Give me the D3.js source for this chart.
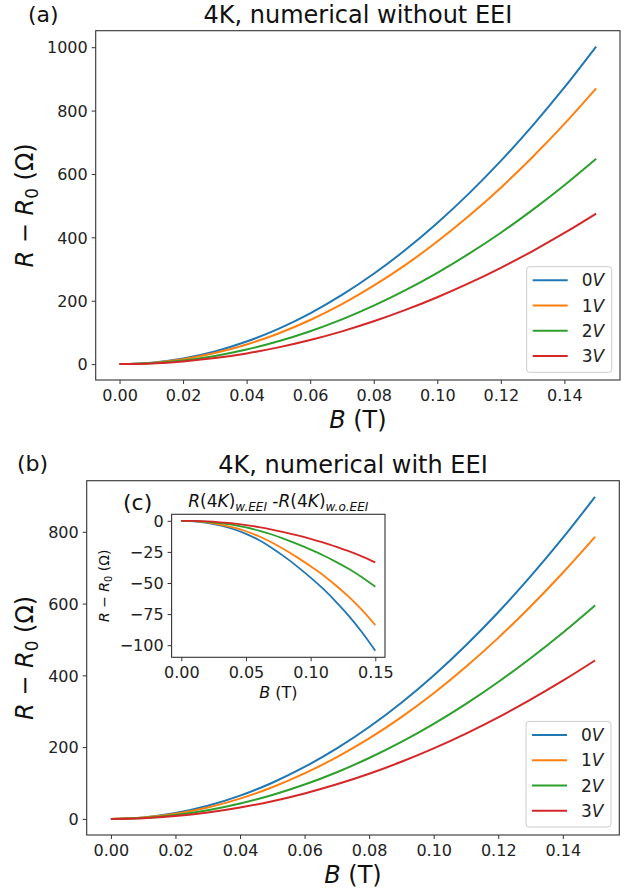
<!DOCTYPE html>
<html>
<head>
<meta charset="utf-8">
<script src="https://cdn.jsdelivr.net/npm/d3@7"></script>
<style>
body{margin:0;background:#fff;}
svg{display:block;font-family:"DejaVu Sans",sans-serif;}
</style>
</head>
<body>
<svg id="chart" width="639" height="893"></svg>
<script>
// ---------- data ----------
const fieldB = [0,0.01,0.02,0.03,0.04,0.05,0.06,0.07,0.08,0.09,0.10,0.11,0.12,0.13,0.14,0.15];
const seriesNames = ["0", "1", "2", "3"];
const seriesColors = ["#1f77b4", "#ff7f0e", "#2ca02c", "#d62728"];

// (a) numerical without EEI
const noEEI_0V = [0,4.5,17.8,40.1,71.3,111.3,160.3,218.2,285,360.7,445.3,538.8,641.3,752.6,872.9,1002];
const noEEI_1V = [0,3.9,15.5,34.8,61.9,96.7,139.2,189.5,247.5,313.2,386.7,467.9,556.8,653.5,757.9,870];
const noEEI_2V = [0,2.9,11.5,25.9,46.1,72,103.7,141.1,184.3,233.3,288,348.5,414.7,486.7,564.5,648];
const noEEI_3V = [0,2.1,8.4,19,33.8,52.8,76,103.4,135.1,171,211.1,255.4,304,356.8,413.8,475];

// (b) numerical with EEI
const withEEI_0V = [0,4.1,16.2,36.4,64.7,100.8,144.8,196.4,256,323.7,399.6,483.8,575.8,675.6,782.9,897.5];
const withEEI_1V = [0,3.6,14.2,31.8,56.6,88.3,126.8,172.1,224.3,283.6,350.1,423.9,504.4,591.9,685.9,786.2];
const withEEI_2V = [0,2.7,10.7,24,42.8,66.7,95.8,130.1,169.6,214.5,264.8,320.6,381.5,447.7,518.9,595];
const withEEI_3V = [0,2,7.9,17.8,31.7,49.4,71,96.4,125.8,159.2,196.5,237.8,283,332.2,385,441.6];

// (c) difference
const diff_0V = [0,-0.4,-1.6,-3.7,-6.6,-10.5,-15.5,-21.8,-29,-37,-45.7,-55,-65.5,-77,-90,-104.5];
const diff_1V = [0,-0.3,-1.3,-3,-5.3,-8.4,-12.4,-17.4,-23.2,-29.6,-36.6,-44,-52.4,-61.6,-72,-83.8];
const diff_2V = [0,-0.2,-0.8,-1.9,-3.3,-5.3,-7.9,-11,-14.7,-18.8,-23.2,-27.9,-33.2,-39,-45.6,-53];
const diff_3V = [0,-0.1,-0.5,-1.2,-2.1,-3.4,-5,-7,-9.3,-11.8,-14.6,-17.6,-21,-24.6,-28.8,-33.4];

const mainXTicks = [0,0.02,0.04,0.06,0.08,0.10,0.12,0.14];
const topYTicks = [0,200,400,600,800,1000];
const botYTicks = [0,200,400,600,800];
const insetXTicks = [0,0.05,0.10,0.15];
const insetYTicks = [0,-25,-50,-75,-100];

// ---------- drawing ----------
const svg = d3.select("#chart");
const AX = "#333";

function yDomainOf(arrs){
  const mn = d3.min(arrs, a => d3.min(a)), mx = d3.max(arrs, a => d3.max(a));
  const m = (mx - mn) * 0.05;
  return [mn - m, mx + m];
}

function panel(o){
  const g = svg.append("g");
  const x = d3.scaleLinear().domain([-0.0075, 0.1575]).range([o.left, o.right]);
  const y = d3.scaleLinear().domain(yDomainOf(o.series)).range([o.bottom, o.top]);
  g.append("rect").attr("x", o.left).attr("y", o.top)
    .attr("width", o.right - o.left).attr("height", o.bottom - o.top).attr("fill", "#fff");

  const line = d3.line().x((d, i) => x(fieldB[i])).y(d => y(d)).curve(d3.curveMonotoneX);
  o.series.forEach((s, i) => {
    g.append("path").datum(s).attr("d", line).attr("fill", "none")
      .attr("stroke", seriesColors[i]).attr("stroke-width", o.lw || 2);
  });

  const xAxis = d3.axisBottom(x).tickValues(o.xTicks).tickSize(4).tickPadding(o.xPad)
    .tickFormat(o.xFmt);
  const yAxis = d3.axisLeft(y).tickValues(o.yTicks).tickSize(4).tickPadding(4)
    .tickFormat(d => d < 0 ? "\u2212" + Math.abs(d) : String(d));
  const gx = g.append("g").attr("transform", `translate(0,${o.bottom})`).call(xAxis);
  const gy = g.append("g").attr("transform", `translate(${o.left},0)`).call(yAxis);
  [gx, gy].forEach(a => {
    a.select(".domain").remove();
    a.selectAll("line").attr("stroke", AX).attr("stroke-width", 1);
    a.selectAll("text").attr("fill", "#222").style("font-size", o.tickFont + "px")
      .style("font-family", "DejaVu Sans");
  });
  gy.selectAll("text").attr("dy", "0.36em");

  g.append("rect").attr("x", o.left).attr("y", o.top)
    .attr("width", o.right - o.left).attr("height", o.bottom - o.top)
    .attr("fill", "none").attr("stroke", AX).attr("stroke-width", 1.1);
  return {g, x, y};
}

function rLabel(sel, size){
  sel.append("tspan").attr("font-style", "italic").text("R");
  sel.append("tspan").text(" \u2212 ");
  sel.append("tspan").attr("font-style", "italic").text("R");
  sel.append("tspan").attr("dy", size * 0.22).style("font-size", (size * 0.7) + "px").text("0");
  sel.append("tspan").attr("dy", -size * 0.22).text(" (\u03A9)");
}
function bLabel(sel){
  sel.append("tspan").attr("font-style", "italic").text("B");
  sel.append("tspan").text(" (T)");
}

function legend(o){
  const g = svg.append("g");
  g.append("rect").attr("x", o.x0).attr("y", o.y0).attr("width", o.w).attr("height", o.h)
    .attr("rx", 3).attr("fill", "#fff").attr("fill-opacity", 0.8)
    .attr("stroke", "#ccc").attr("stroke-width", 1);
  seriesNames.forEach((n, i) => {
    const yy = o.y0 + 13.5 + i * 25.3;
    g.append("line").attr("x1", o.x0 + 6).attr("x2", o.x0 + 41).attr("y1", yy).attr("y2", yy)
      .attr("stroke", seriesColors[i]).attr("stroke-width", 2);
    const t = g.append("text").attr("x", o.x0 + 55).attr("y", yy).attr("dy", "0.36em")
      .style("font-size", "17px").attr("fill", "#222");
    t.append("tspan").text(n);
    t.append("tspan").attr("font-style", "italic").text("V");
  });
}

// ---- panel (a)
const A = panel({left: 95.7, right: 620, top: 30.7, bottom: 380,
  series: [noEEI_0V, noEEI_1V, noEEI_2V, noEEI_3V],
  xTicks: mainXTicks, yTicks: topYTicks, xFmt: d3.format(".2f"), tickFont: 16, xPad: 6});
svg.append("text").attr("x", 357.9).attr("y", 23.3).attr("text-anchor", "middle")
  .style("font-size", "24px").attr("fill", "#111").text("4K, numerical without EEI");
svg.append("text").attr("x", 28).attr("y", 22).style("font-size", "22px").attr("fill", "#111").text("(a)");
svg.append("text").attr("x", 357.9).attr("y", 428).attr("text-anchor", "middle")
  .style("font-size", "24px").attr("fill", "#111").call(bLabel);
svg.append("text").attr("transform", "translate(33,205.4) rotate(-90)").attr("text-anchor", "middle")
  .style("font-size", "24px").attr("fill", "#111").call(s => rLabel(s, 24));
legend({x0: 526.7, y0: 266.7, w: 85, h: 105.6});

// ---- panel (b)
const Bp = panel({left: 86.7, right: 619.3, top: 480.7, bottom: 835,
  series: [withEEI_0V, withEEI_1V, withEEI_2V, withEEI_3V],
  xTicks: mainXTicks, yTicks: botYTicks, xFmt: d3.format(".2f"), tickFont: 16, xPad: 6});
svg.append("text").attr("x", 353).attr("y", 473.3).attr("text-anchor", "middle")
  .style("font-size", "24px").attr("fill", "#111").text("4K, numerical with EEI");
svg.append("text").attr("x", 17).attr("y", 471).style("font-size", "22px").attr("fill", "#111").text("(b)");
svg.append("text").attr("x", 353).attr("y", 883).attr("text-anchor", "middle")
  .style("font-size", "24px").attr("fill", "#111").call(bLabel);
svg.append("text").attr("transform", "translate(33,657.9) rotate(-90)").attr("text-anchor", "middle")
  .style("font-size", "24px").attr("fill", "#111").call(s => rLabel(s, 24));
legend({x0: 526, y0: 721.4, w: 85, h: 105.6});

// ---- inset (c)
const C = panel({left: 171.6, right: 385, top: 514.3, bottom: 657.3,
  series: [diff_0V, diff_1V, diff_2V, diff_3V],
  xTicks: insetXTicks, yTicks: insetYTicks, xFmt: d3.format(".2f"), tickFont: 16, xPad: 5, lw: 1.8});
svg.append("text").attr("x", 123).attr("y", 510).style("font-size", "22px").attr("fill", "#111").text("(c)");
svg.append("text").attr("x", 278.3).attr("y", 698).attr("text-anchor", "middle")
  .style("font-size", "16px").attr("fill", "#111").call(bLabel);
svg.append("text").attr("transform", "translate(109,585.8) rotate(-90)").attr("text-anchor", "middle")
  .style("font-size", "14px").attr("fill", "#111").call(s => rLabel(s, 14));
// inset title
const tt = svg.append("text").attr("x", 278.3).attr("y", 507).attr("text-anchor", "middle")
  .style("font-size", "17px").attr("fill", "#111");
function rk(sel, sub){
  sel.append("tspan").attr("font-style", "italic").text("R");
  sel.append("tspan").text("(4");
  sel.append("tspan").attr("font-style", "italic").text("K");
  sel.append("tspan").text(")");
  sel.append("tspan").attr("font-style", "italic").attr("dy", 3.5).style("font-size", "12px").text(sub);
}
rk(tt, "w.EEI");
tt.append("tspan").attr("dy", -3.5).text(" -");
rk(tt, "w.o.EEI");
</script>
</body>
</html>
